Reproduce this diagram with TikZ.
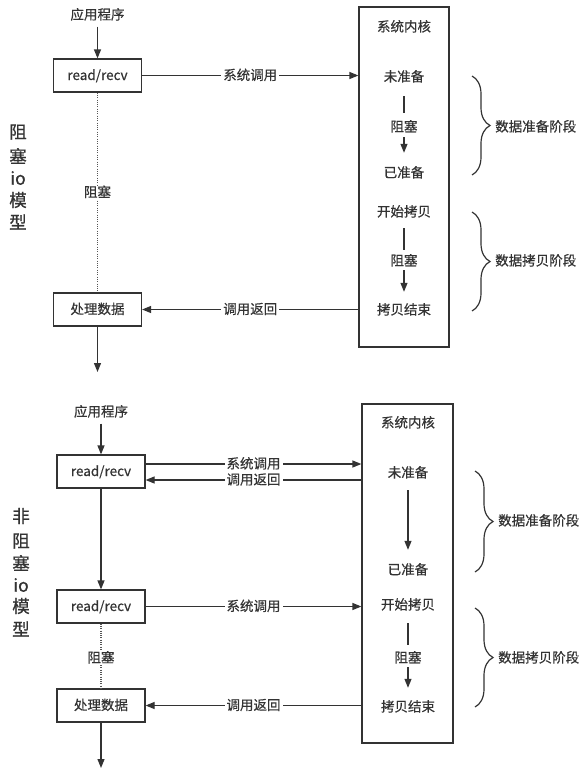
\documentclass[tikz,border=0pt]{standalone}
\usepackage{fontspec}
\newfontfamily\cjk[FakeBold=0.5]{Noto Sans CJK SC}
\newfontfamily\cjkbig[FakeBold=0.9]{Noto Sans CJK SC}
\usetikzlibrary{arrows.meta,decorations.pathreplacing}
\definecolor{ink}{HTML}{333333}
\definecolor{dotc}{HTML}{555555}
\tikzset{
  txt/.style={font=\cjk\fontsize{13.5}{16}\selectfont, text=ink, inner sep=0pt, text height=11pt, text depth=2pt},
  big/.style={font=\cjkbig\fontsize{17.5}{20}\selectfont, text=ink, inner sep=0pt},
  box/.style={txt, draw=ink, line width=1.2pt, minimum width=88pt, minimum height=33pt},
  kbox/.style={draw=ink, line width=1.2pt, inner sep=0pt},
  ln/.style={draw=ink, line width=1.2pt},
  arr/.style={ln, -{Triangle[length=9pt,width=7pt]}},
  lbl/.style={txt, fill=white, inner xsep=2pt},
  dotl/.style={draw=dotc, line width=1.3pt, dash pattern=on 1pt off 1.3pt},
  brc/.style={draw=ink, line width=1.2pt, decorate, decoration={brace, amplitude=18pt, aspect=0.5}},
}
\begin{document}
\begin{tikzpicture}[x=1pt,y=-1pt]
\useasboundingbox (0,0) rectangle (588,782);
% ---------- blocking model ----------
\foreach \t/\yy [count=\i] in {阻/132,塞/156,io/178,模/200,型/222}
  \node[big] (La\i) at (18,\yy) {\t};
\node[txt] (app1) at (97.5,15) {应用程序};
\node[box] (rr1) at (97.5,75.5) {read/recv};
\node[box] (pd1) at (97.5,309.5) {处理数据};
\node[kbox, minimum width=90pt, minimum height=340pt] (kern1) at (404,177) {};
\node[txt] (t1) at (404,27) {系统内核};
\node[txt] (a1) at (404,77) {未准备};
\node[txt] (b1) at (404,127) {阻塞};
\node[txt] (c1) at (404,173) {已准备};
\node[txt] (d1) at (404,212) {开始拷贝};
\node[txt] (e1) at (404,261) {阻塞};
\node[txt] (f1) at (404,310) {拷贝结束};
\coordinate (end1) at (97.5,372);

\draw[arr, shorten <=5pt] (app1) -- (rr1);
\draw[arr] (rr1.east) -- (rr1.east -| kern1.west) node[lbl, midway] {系统调用};
\draw[arr] (pd1.east -| kern1.west) -- (pd1.east) node[lbl, midway] {调用返回};
\draw[dotl] (rr1.south) -- (pd1.north) node[lbl, midway] {阻塞};
\draw[arr] (pd1.south) -- (end1);
\draw[ln, shorten <=12.5pt, shorten >=7.5pt] (a1) -- (b1);
\draw[arr, shorten <=3.5pt, shorten >=13.5pt] (b1) -- (c1);
\draw[ln, shorten <=9.5pt, shorten >=4.5pt] (d1) -- (e1);
\draw[arr, shorten <=2.5pt, shorten >=11.5pt] (e1) -- (f1);

\coordinate (br1a) at (472,76);
\coordinate (br1b) at (472,175);
\coordinate (br2a) at (472,212);
\coordinate (br2b) at (472,311);
\draw[brc] (br1a) -- (br1b);
\draw[brc] (br2a) -- (br2b);
\node[txt, anchor=west] (s1) at (495,127) {数据准备阶段};
\node[txt, anchor=west] (s2) at (495,261) {数据拷贝阶段};

% ---------- non-blocking model ----------
\foreach \t/\yy [count=\i] in {非/516,阻/541,塞/563,io/585,模/606,型/629}
  \node[big] (Lb\i) at (21,\yy) {\t};
\node[txt] (app2) at (101,412) {应用程序};
\node[box] (rr2) at (101,471.5) {read/recv};
\node[box] (rr3) at (101,606.5) {read/recv};
\node[box] (pd2) at (101,705.5) {处理数据};
\node[kbox, minimum width=91pt, minimum height=339pt] (kern2) at (407.5,573.5) {};
\node[txt] (t2) at (408,423) {系统内核};
\node[txt] (a2) at (408,473) {未准备};
\node[txt] (c2) at (408,570) {已准备};
\node[txt] (d2) at (408,605) {开始拷贝};
\node[txt] (e2) at (408,658) {阻塞};
\node[txt] (f2) at (408,707) {拷贝结束};
\coordinate (end2) at (101,768);

\draw[arr, shorten <=5pt] (app2) -- (rr2);
\draw[arr] ([yshift=7.5pt]rr2.east) -- ([yshift=7.5pt]rr2.east -| kern2.west) node[lbl, midway] {系统调用};
\draw[arr] ([yshift=-8.5pt]rr2.east -| kern2.west) -- ([yshift=-8.5pt]rr2.east) node[lbl, midway] {调用返回};
\draw[arr] (rr2.south) -- (rr3.north);
\draw[arr] (rr3.east) -- (rr3.east -| kern2.west) node[lbl, midway] {系统调用};
\draw[arr] (pd2.east -| kern2.west) -- (pd2.east) node[lbl, midway] {调用返回};
\draw[dotl] (rr3.south) -- (pd2.north) node[lbl, pos=0.53] {阻塞};
\draw[arr] (pd2.south) -- (end2);
\draw[arr, shorten <=10.5pt, shorten >=13.5pt] (a2) -- (c2);
\draw[ln, shorten <=11.5pt, shorten >=6.5pt] (d2) -- (e2);
\draw[arr, shorten <=2.5pt, shorten >=12.5pt] (e2) -- (f2);

\coordinate (br3a) at (475,471);
\coordinate (br3b) at (475,572);
\coordinate (br4a) at (475,608);
\coordinate (br4b) at (475,707);
\draw[brc] (br3a) -- (br3b);
\draw[brc] (br4a) -- (br4b);
\node[txt, anchor=west] (s3) at (498,521) {数据准备阶段};
\node[txt, anchor=west] (s4) at (498,658) {数据拷贝阶段};
\end{tikzpicture}
\end{document}
